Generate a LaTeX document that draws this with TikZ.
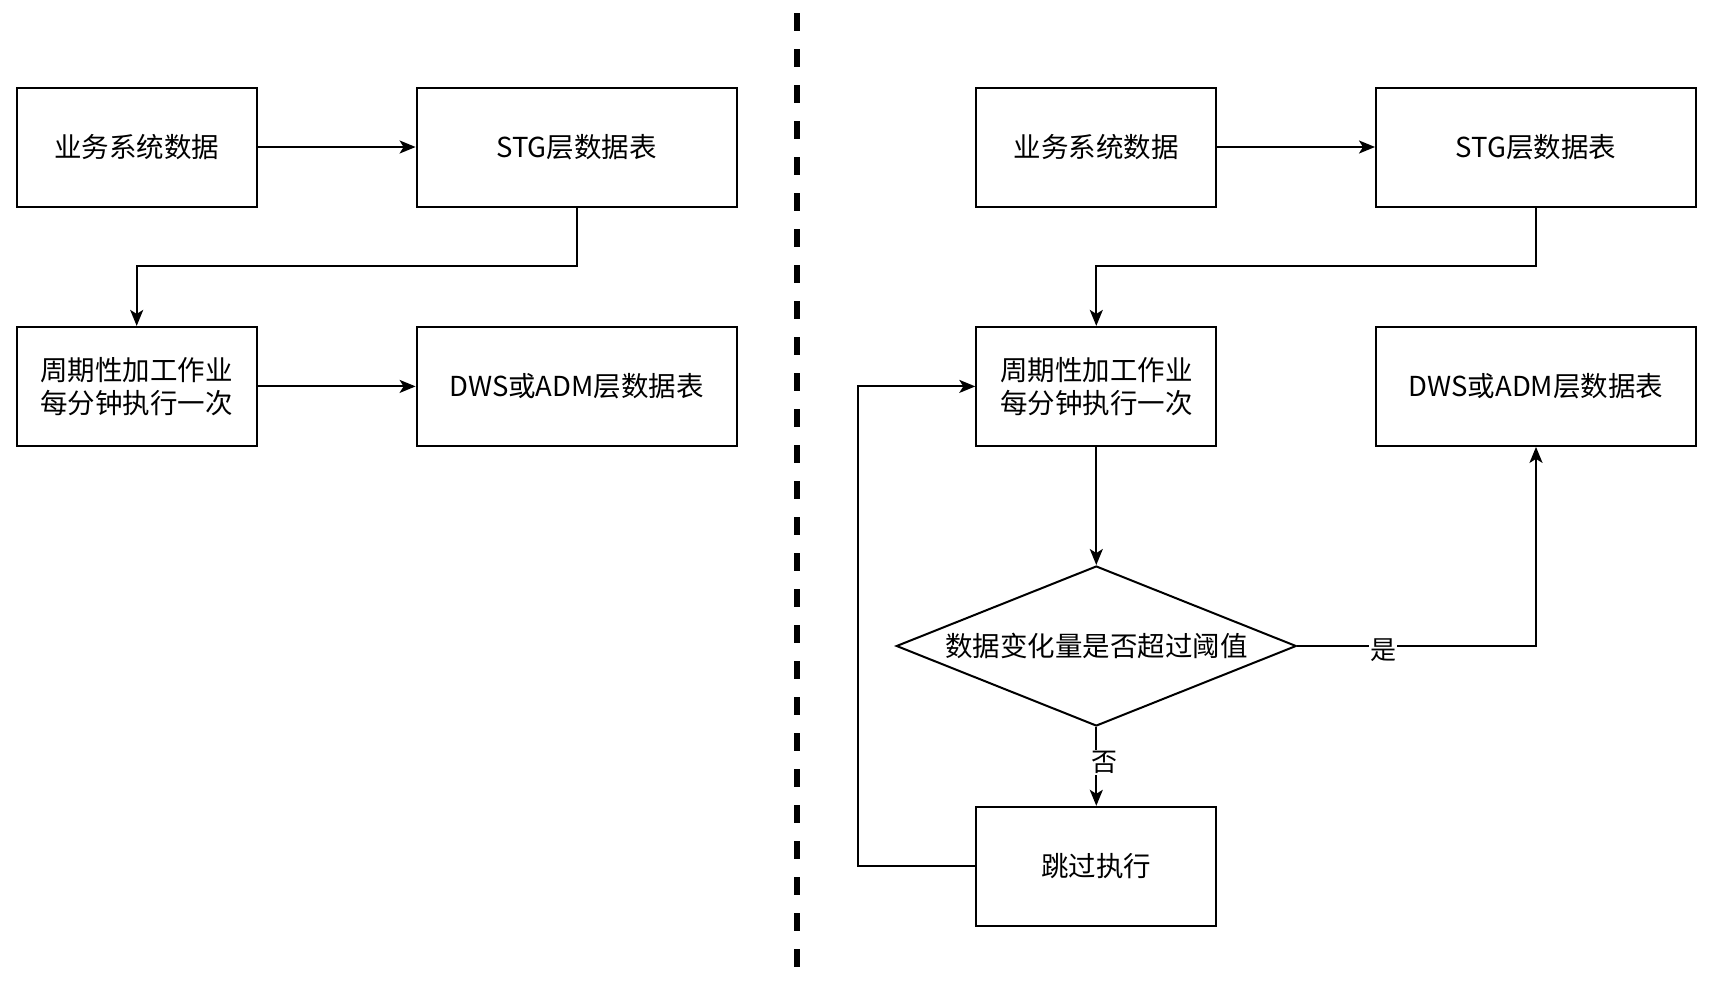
\documentclass[tikz,border=0pt]{standalone}
\usepackage{fontspec}
\setmainfont{Noto Sans CJK SC}
\usetikzlibrary{arrows.meta,shapes.geometric}
\begin{document}
\begin{tikzpicture}[x=1pt,y=-1pt,
  box/.style={draw,line width=2pt,minimum width=240pt,minimum height=119pt,inner sep=0pt,align=center,font=\fontsize{27.5}{33}\selectfont},
  wbox/.style={box,minimum width=320pt},
  dec/.style={draw,diamond,line width=2pt,minimum width=400pt,minimum height=160pt,aspect=2.5,inner sep=0pt,font=\fontsize{27.5}{33}\selectfont},
  conn/.style={line width=2pt,-{Stealth[length=16pt,width=13pt,inset=4pt]}},
  lbl/.style={fill=white,inner sep=1pt,font=\fontsize{26}{30}\selectfont}]
\useasboundingbox (0,0) rectangle (1714,986);
% divider
\draw[line width=6pt,dash pattern=on 18pt off 18pt] (797,13) -- (797,975);
% left side
\node[box]  (a1) at (136.7,147) {业务系统数据};
\node[wbox] (a2) at (576.6,147) {STG层数据表};
\node[box]  (a3) at (136.7,386.4) {周期性加工作业\\每分钟执行一次};
\node[wbox] (a4) at (576.6,386.4) {DWS或ADM层数据表};
\draw[conn] (a1) -- (a2);
\draw[conn] (a2.south) |- (136.7,265.6) -- (a3.north);
\draw[conn] (a3) -- (a4);
% right side
\node[box]  (b1) at (1096.3,147) {业务系统数据};
\node[wbox] (b2) at (1536,147) {STG层数据表};
\node[box]  (b3) at (1096.3,386.4) {周期性加工作业\\每分钟执行一次};
\node[wbox] (b4) at (1536,386.4) {DWS或ADM层数据表};
\node[dec]  (d)  at (1096.3,646) {数据变化量是否超过阈值};
\node[box]  (b6) at (1096.3,866.3) {跳过执行};
\draw[conn] (b1) -- (b2);
\draw[conn] (b2.south) |- (1096.3,265.6) -- (b3.north);
\draw[conn] (b3) -- (d.north);
\draw[conn] (d.east) -| node[lbl,pos=0.18,yshift=-4pt] {是} (b4.south);
\draw[conn] (d.south) -- node[lbl,pos=0.45,xshift=8pt] {否} (b6.north);
\draw[conn] (b6.west) -| (858,386.4) -- (b3.west);
\end{tikzpicture}
\end{document}
